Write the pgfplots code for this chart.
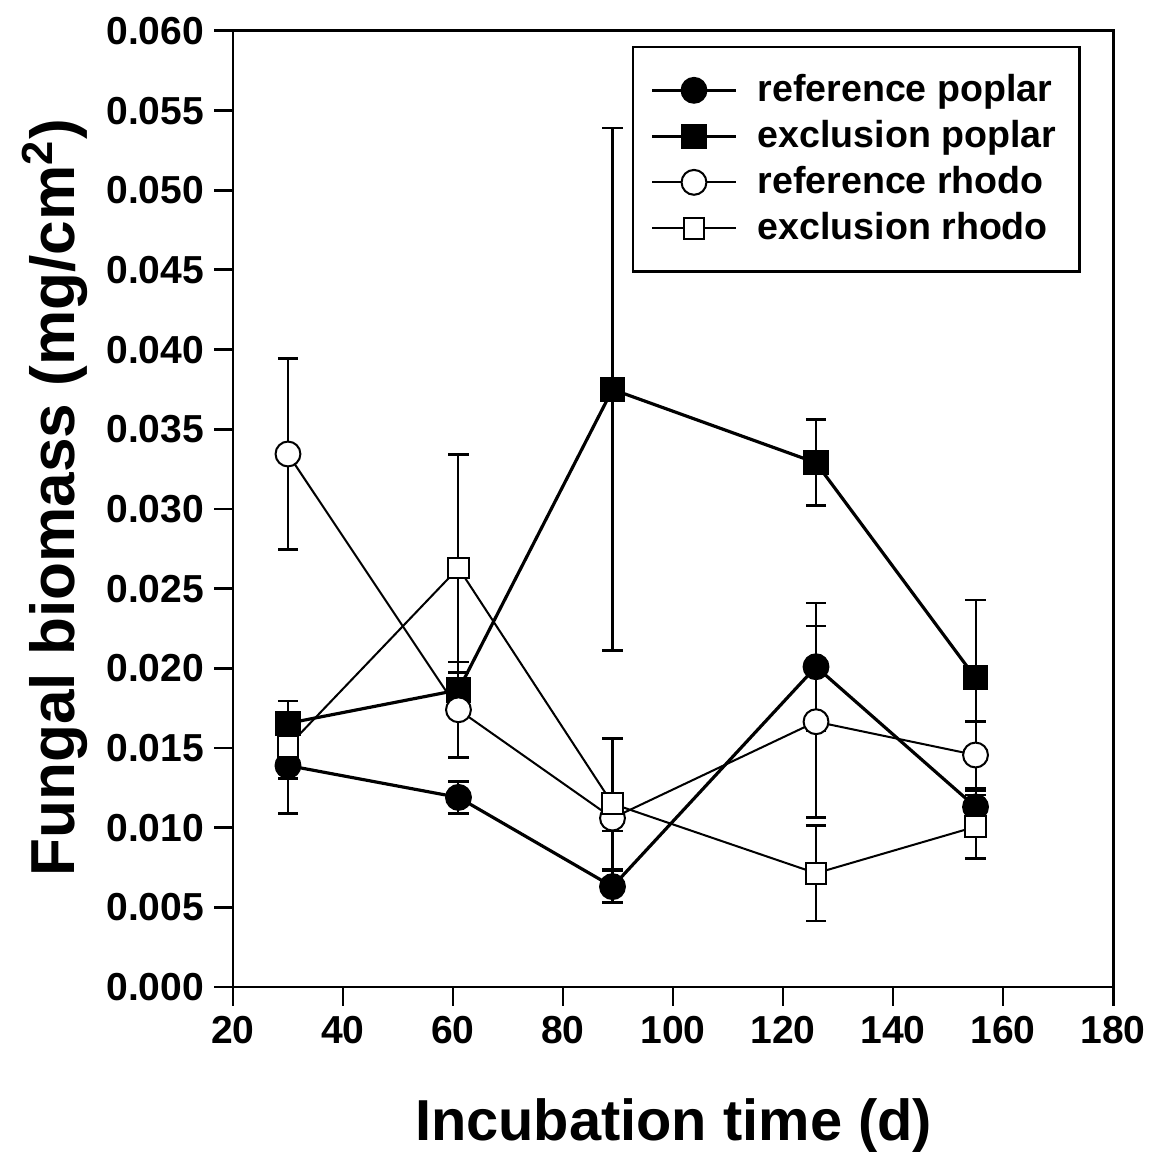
\documentclass[border=0pt]{standalone}
\usepackage{fontspec}
\setmainfont{Liberation Sans}
\usepackage{pgfplots}
\usepackage{pgfplotstable}
\pgfplotsset{compat=1.18}

\pgfplotstableread{
x y e
30 0.0139 0.0030
61 0.0119 0.0010
89 0.0063 0.0010
126 0.0201 0.0040
155 0.0113 0.0010
}\refpoplar
\pgfplotstableread{
x y e
30 0.01655 0.0014
61 0.01864 0.0011
89 0.0375 0.0164
126 0.0329 0.0027
155 0.0194 0.0049
}\exclpoplar
\pgfplotstableread{
x y e
30 0.03345 0.0060
61 0.0174 0.0030
89 0.0106 0.0008
126 0.01665 0.0060
155 0.01456 0.0021
}\refrhodo
\pgfplotstableread{
x y e
30 0.0151 0.0020
61 0.0263 0.0071
89 0.0115 0.0041
126 0.00714 0.0030
155 0.01006 0.0020
}\exclrhodo

\begin{document}
\begin{tikzpicture}
\begin{axis}[
  scale only axis, width=304.5pt, height=330.8pt,
  xmin=20, xmax=180, ymin=0, ymax=0.06,
  xtick={20,40,60,80,100,120,140,160,180},
  ytick={0,0.005,0.010,0.015,0.020,0.025,0.030,0.035,0.040,0.045,0.050,0.055,0.060},
  scaled y ticks=false,
  /pgf/number format/assume math mode=true,
  yticklabel style={/pgf/number format/.cd, fixed, fixed zerofill, precision=3},
  ticklabel style={font=\bfseries\fontsize{13.5}{16}\selectfont},
  tick align=outside, xtick pos=bottom, ytick pos=left,
  major tick length=6.5pt,
  axis line style={line width=1pt},
  every tick/.style={line width=1pt, black},
  xlabel={Incubation time (d)},
  ylabel={Fungal biomass (mg/cm\textsuperscript{2})},
  xlabel style={font=\bfseries\fontsize{20}{24}\selectfont, at={(axis description cs:0.5006,0)}, yshift=-47.8pt, anchor=center},
  ylabel style={font=\bfseries\fontsize{21.5}{25}\selectfont, at={(axis description cs:-0.2023,0.5115)}, anchor=center},
  legend cell align=left,
  legend style={at={(0.4534,0.9843)}, anchor=north west, draw=black, line width=0.8pt,
    font=\bfseries\fontsize{13}{15}\selectfont, row sep=1pt, inner xsep=6pt, inner ysep=7.5pt},
  legend image code/.code={\draw[mark repeat=2,mark phase=2] plot coordinates {(0pt,0pt)(14.5pt,0pt)(29pt,0pt)};\path (34pt,0pt);},
  error bars/y dir=both, error bars/y explicit,
  error bars/error bar style={line width=0.7pt, black, solid},
  error bars/error mark options={rotate=90, line width=0.9pt, mark size=3.5pt, black},
]
\coordinate (bl) at (rel axis cs:0,0);
\coordinate (tr) at (rel axis cs:1,1);
\addplot[black, line width=1.1pt, mark=*, mark size=4.3pt, mark options={solid, fill=black, line width=0.7pt}]
  table[x=x, y=y, y error=e] {\refpoplar};
\addlegendentry{reference poplar}
\addplot[black, line width=1.1pt, mark=square*, mark size=4pt, mark options={solid, fill=black, line width=0.7pt}]
  table[x=x, y=y, y error=e] {\exclpoplar};
\addlegendentry{exclusion poplar}
\addplot[black, line width=0.7pt, mark=*, mark size=4.3pt, mark options={solid, fill=white, line width=0.7pt}]
  table[x=x, y=y, y error=e] {\refrhodo};
\addlegendentry{reference rhodo}
\addplot[black, line width=0.7pt, mark=square*, mark size=3.6pt, mark options={solid, fill=white, line width=0.7pt}]
  table[x=x, y=y, y error=e] {\exclrhodo};
\addlegendentry{exclusion rhodo}
\end{axis}
\pgfresetboundingbox
\path ([shift={(-80.6pt,-59.5pt)}]bl) rectangle ([shift={(14.9pt,10.7pt)}]tr);
\end{tikzpicture}
\end{document}
